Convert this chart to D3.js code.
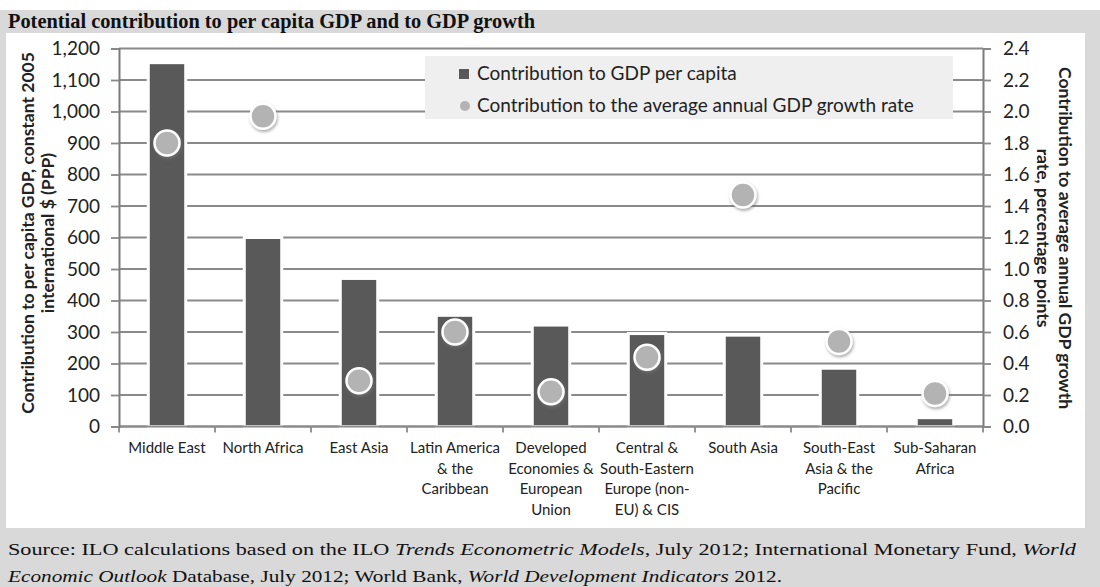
<!DOCTYPE html>
<html>
<head>
<meta charset="utf-8">
<script src="https://cdn.jsdelivr.net/npm/d3@7"></script>
<style>
  body { margin: 0; background: #fff; }
  svg { display: block; }
  .tick text { font-family: Lato, sans-serif; fill: #222; }
</style>
</head>
<body>
<svg id="chart" width="1100" height="587"></svg>
<script>
// categories and values
var categories = ["Middle East", "North Africa", "East Asia", "Latin America & the Caribbean",
  "Developed Economies & European Union", "Central & South-Eastern Europe (non-EU) & CIS",
  "South Asia", "South-East Asia & the Pacific", "Sub-Saharan Africa"]
var catLines = [["Middle East"], ["North Africa"], ["East Asia"], ["Latin America", "& the", "Caribbean"],
  ["Developed", "Economies &", "European", "Union"], ["Central &", "South-Eastern", "Europe (non-", "EU) & CIS"],
  ["South Asia"], ["South-East", "Asia & the", "Pacific"], ["Sub-Saharan", "Africa"]]
var gdpPerCapita = [1155, 600, 470, 353, 322, 295, 290, 185, 28]
var growthRate = [1.80, 1.97, 0.29, 0.60, 0.22, 0.44, 1.47, 0.54, 0.21]
var leftTicks = [0, 100, 200, 300, 400, 500, 600, 700, 800, 900, 1000, 1100, 1200]
var rightTicks = [0, 0.2, 0.4, 0.6, 0.8, 1.0, 1.2, 1.4, 1.6, 1.8, 2.0, 2.2, 2.4]

var svg = d3.select("#chart")

var x0 = 119, x1 = 983, yTop = 48.5, yBot = 426.5

// background frame
svg.append("rect").attr("x", 0).attr("y", 10).attr("width", 1100).attr("height", 577).attr("fill", "#d9d9d9")
svg.append("rect").attr("x", 6).attr("y", 33).attr("width", 1079).attr("height", 495).attr("fill", "#fff")

var defs = svg.append("defs")
var f = defs.append("filter").attr("id", "shadow").attr("x", "-50%").attr("y", "-50%").attr("width", "200%").attr("height", "200%")
f.append("feDropShadow").attr("dx", 1).attr("dy", 2).attr("stdDeviation", 1.5)
  .attr("flood-color", "#777").attr("flood-opacity", 0.6)

var x = d3.scaleBand().domain(categories).range([x0, x1])
var yL = d3.scaleLinear().domain([0, 1200]).range([yBot, yTop])
var yR = d3.scaleLinear().domain([0, 2.4]).range([yBot, yTop])

// gridlines
svg.append("g")
  .selectAll("line")
  .data(leftTicks)
  .enter()
  .append("line")
    .attr("x1", x0).attr("x2", x1)
    .attr("y1", function(d){ return yL(d) }).attr("y2", function(d){ return yL(d) })
    .attr("stroke", "#8a8a8a").attr("stroke-width", 1.8)

// category boundary ticks
svg.append("g")
  .selectAll("line")
  .data(categories.concat(["end"]))
  .enter()
  .append("line")
    .attr("x1", function(d, i){ return i < categories.length ? x(d) : x1 })
    .attr("x2", function(d, i){ return i < categories.length ? x(d) : x1 })
    .attr("y1", yBot).attr("y2", yBot + 6)
    .attr("stroke", "#8a8a8a").attr("stroke-width", 1.8)

// legend box
var legend = svg.append("g")
legend.append("rect").attr("x", 425).attr("y", 56).attr("width", 528).attr("height", 63).attr("fill", "#efefef")
legend.append("rect").attr("x", 459).attr("y", 69).attr("width", 10).attr("height", 10).attr("fill", "#595959")
legend.append("circle").attr("cx", 465).attr("cy", 106).attr("r", 5).attr("fill", "#b3b3b3")
legend.append("text").attr("x", 477).attr("y", 80).text("Contribution to GDP per capita")
  .attr("font-family", "Lato, sans-serif").attr("font-size", 19).attr("fill", "#222")
legend.append("text").attr("x", 477).attr("y", 112).text("Contribution to the average annual GDP growth rate")
  .attr("font-family", "Lato, sans-serif").attr("font-size", 19).attr("fill", "#222")

// bars
var bw = x.bandwidth() * 0.39
svg.append("g")
  .selectAll("rect")
  .data(gdpPerCapita)
  .enter()
  .append("rect")
    .attr("x", function(d, i){ return x(categories[i]) + x.bandwidth() / 2 - bw / 2 })
    .attr("y", function(d){ return yL(d) })
    .attr("width", bw)
    .attr("height", function(d){ return yBot - yL(d) })
    .attr("fill", "#595959")
    .attr("stroke", "#fff").attr("stroke-width", 3)

// re-draw the zero line over bar strokes
svg.append("line").attr("x1", x0).attr("x2", x1).attr("y1", yBot).attr("y2", yBot)
  .attr("stroke", "#8a8a8a").attr("stroke-width", 1.8)

// dots
svg.append("g")
  .selectAll("circle")
  .data(growthRate)
  .enter()
  .append("circle")
    .attr("cx", function(d, i){ return x(categories[i]) + x.bandwidth() / 2 })
    .attr("cy", function(d){ return yR(d) })
    .attr("r", 12.5)
    .attr("fill", "#b3b3b3")
    .attr("stroke", "#fff").attr("stroke-width", 2.5)
    .attr("filter", "url(#shadow)")

// axes
var axL = svg.append("g")
  .attr("transform", "translate(" + x0 + ",0)")
  .call(d3.axisLeft(yL).tickValues(leftTicks).tickSize(8).tickPadding(11).tickFormat(d3.format(",")))
var axR = svg.append("g")
  .attr("transform", "translate(" + x1 + ",0)")
  .call(d3.axisRight(yR).tickValues(rightTicks).tickSize(8).tickPadding(12).tickFormat(d3.format(".1f")))
;[axL, axR].forEach(function(ax){
  ax.select(".domain").attr("stroke", "#7a7a7a").attr("stroke-width", 2)
  ax.selectAll(".tick line").attr("stroke", "#8a8a8a").attr("stroke-width", 1.8)
  ax.selectAll(".tick text").attr("font-size", 19)
})

// category labels
var cl = svg.append("g")
  .selectAll("text")
  .data(catLines)
  .enter()
  .append("text")
    .attr("text-anchor", "middle")
    .attr("font-family", "Lato, sans-serif").attr("font-size", 15).attr("fill", "#222")
    .attr("transform", function(d, i){ return "translate(" + (x(categories[i]) + x.bandwidth() / 2) + ",453)" })
cl.selectAll("tspan")
  .data(function(d){ return d })
  .enter()
  .append("tspan")
    .attr("x", 0)
    .attr("y", function(d, i){ return i * 20.7 })
    .text(function(d){ return d })

// axis titles
var lt = svg.append("text")
  .attr("transform", "translate(0,233) rotate(-90)")
  .attr("text-anchor", "middle")
  .attr("font-family", "Lato, sans-serif").attr("font-size", 17.5).attr("font-weight", "bold").attr("fill", "#222")
lt.append("tspan").attr("x", 0).attr("y", 34).text("Contribution to per capita GDP,  constant 2005")
lt.append("tspan").attr("x", 0).attr("y", 54).text("international $ (PPP)")

var rt = svg.append("text")
  .attr("transform", "translate(0,238) rotate(90)")
  .attr("text-anchor", "middle")
  .attr("font-family", "Lato, sans-serif").attr("font-size", 17.5).attr("font-weight", "bold").attr("fill", "#222")
rt.append("tspan").attr("x", 0).attr("y", -1059).text("Contribution to average annual GDP growth")
rt.append("tspan").attr("x", 0).attr("y", -1037).text("rate, percentage points")

// title
svg.append("text")
  .attr("x", 8).attr("y", 28)
  .attr("font-family", "Liberation Serif, serif").attr("font-size", 21).attr("font-weight", "bold").attr("fill", "#111")
  .attr("textLength", 527).attr("lengthAdjust", "spacingAndGlyphs")
  .text("Potential contribution to per capita GDP and to GDP growth")

// source
var s1 = svg.append("text")
  .attr("x", 8).attr("y", 555)
  .attr("font-family", "Liberation Serif, serif").attr("font-size", 17).attr("fill", "#111")
  .attr("textLength", 1068).attr("lengthAdjust", "spacingAndGlyphs")
s1.append("tspan").text("Source: ILO calculations based on the ILO ")
s1.append("tspan").attr("font-style", "italic").text("Trends Econometric Models")
s1.append("tspan").text(", July 2012; International Monetary Fund, ")
s1.append("tspan").attr("font-style", "italic").text("World")

var s2 = svg.append("text")
  .attr("x", 8).attr("y", 582)
  .attr("font-family", "Liberation Serif, serif").attr("font-size", 17).attr("fill", "#111")
  .attr("textLength", 774).attr("lengthAdjust", "spacingAndGlyphs")
s2.append("tspan").attr("font-style", "italic").text("Economic Outlook")
s2.append("tspan").text(" Database, July 2012; World Bank, ")
s2.append("tspan").attr("font-style", "italic").text("World Development Indicators")
s2.append("tspan").text(" 2012.")
</script>
</body>
</html>
